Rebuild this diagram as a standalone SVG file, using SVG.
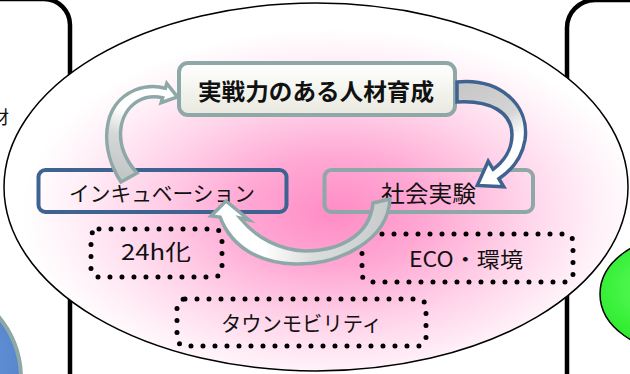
<svg xmlns="http://www.w3.org/2000/svg" width="630" height="374" viewBox="0 0 630 374">
<defs>
<style>
.panel{fill:none;stroke:#000;stroke-width:4.5}
.jp{font-family:"Noto Sans CJK JP","Noto Sans",sans-serif;fill:#111;text-anchor:middle}
.dots{fill:none;stroke:#000;stroke-width:5;stroke-linecap:round;stroke-dasharray:0 12}
.arrow-teal{stroke:#8ea8a8;stroke-width:3.5;stroke-linejoin:miter;stroke-miterlimit:6}
.arrow-blue{stroke:#3f6390;stroke-width:3.5;stroke-linejoin:miter;stroke-miterlimit:6}
</style>
<radialGradient id="pink" cx="0.53" cy="0.57" r="0.5">
<stop offset="0" stop-color="#ff8cc5"/>
<stop offset="0.3" stop-color="#ffa8d4"/>
<stop offset="0.6" stop-color="#ffd3e9"/>
<stop offset="0.85" stop-color="#fff1f8"/>
<stop offset="1" stop-color="#ffffff"/>
</radialGradient>
<linearGradient id="topFill" x1="0" y1="0" x2="0" y2="1">
<stop offset="0" stop-color="#ffffff"/>
<stop offset="1" stop-color="#e9e9e0"/>
</linearGradient>
<radialGradient id="blueFill" cx="0.7" cy="0.4" r="0.7">
<stop offset="0" stop-color="#6a98da"/>
<stop offset="1" stop-color="#3e6fbe"/>
</radialGradient>
<radialGradient id="greenFill" cx="0.4" cy="0.45" r="0.6">
<stop offset="0" stop-color="#66ff66"/>
<stop offset="1" stop-color="#1ee61e"/>
</radialGradient>
<linearGradient id="g1" gradientUnits="userSpaceOnUse" x1="128" y1="178" x2="150" y2="92">
<stop offset="0" stop-color="#c2c6c6"/>
<stop offset="0.45" stop-color="#d6d8d8"/>
<stop offset="0.75" stop-color="#ffffff"/>
<stop offset="1" stop-color="#ffffff"/>
</linearGradient>
<linearGradient id="g2" gradientUnits="userSpaceOnUse" x1="460" y1="90" x2="505" y2="175">
<stop offset="0" stop-color="#c8c8c8"/>
<stop offset="0.45" stop-color="#d4d4d4"/>
<stop offset="0.7" stop-color="#ffffff"/>
<stop offset="1" stop-color="#ffffff"/>
</linearGradient>
<linearGradient id="g3" gradientUnits="userSpaceOnUse" x1="385" y1="220" x2="222" y2="220">
<stop offset="0" stop-color="#c8cccc"/>
<stop offset="0.45" stop-color="#dcdede"/>
<stop offset="0.75" stop-color="#ffffff"/>
<stop offset="1" stop-color="#ffffff"/>
</linearGradient>
</defs>

<rect width="630" height="374" fill="#ffffff"/>

<g id="left-panel">
<path class="panel" d="M -10 -1 H 44 A 26 26 0 0 1 70 25 V 380"/>
<text class="jp" x="9" y="124" font-size="18" style="text-anchor:end" fill="#222">材</text>
<circle cx="-74" cy="378" r="95" fill="url(#blueFill)" stroke="#8ea8a8" stroke-width="4"/>
</g>

<g id="right-panel">
<path class="panel" d="M 567 380 V 28 A 28 28 0 0 1 595 0 H 640"/>
<ellipse cx="680" cy="294" rx="80" ry="58" fill="url(#greenFill)" stroke="#000" stroke-width="1.5"/>
</g>

<g id="main-ellipse">
<ellipse cx="316" cy="187" rx="312" ry="184" fill="url(#pink)" stroke="#000" stroke-width="1.5"/>
</g>

<g id="node-jinzai">
<rect x="179" y="63" width="276" height="52" rx="9" fill="url(#topFill)" stroke="#8ea8a8" stroke-width="4"/>
<text class="jp" x="316" y="99.5" font-size="23" font-weight="bold" textLength="236" lengthAdjust="spacingAndGlyphs">実戦力のある人材育成</text>
</g>

<g id="node-incubation">
<rect x="38.5" y="170" width="248" height="42" rx="7" fill="none" stroke="#3f6390" stroke-width="4"/>
<text class="jp" x="162" y="200.5" font-size="21" textLength="186" lengthAdjust="spacingAndGlyphs">インキュベーション</text>
</g>

<g id="node-shakai">
<rect x="324.5" y="170" width="208.5" height="42" rx="7" fill="none" stroke="#8ea8a8" stroke-width="4"/>
<text class="jp" x="428.5" y="201.5" font-size="23" textLength="95" lengthAdjust="spacingAndGlyphs">社会実験</text>
</g>

<g id="node-24h">
<rect class="dots" x="91" y="229" width="131" height="48" rx="8"/>
<text class="jp" x="156" y="260" font-size="22" textLength="70" lengthAdjust="spacingAndGlyphs">24h化</text>
</g>

<g id="node-eco">
<rect class="dots" x="362" y="234" width="211" height="48" rx="8"/>
<text class="jp" x="466" y="266.5" font-size="21" textLength="114" lengthAdjust="spacingAndGlyphs">ECO・環境</text>
</g>

<g id="node-town">
<rect class="dots" x="177" y="299" width="249" height="47" rx="8"/>
<text class="jp" x="301.5" y="330.5" font-size="21" textLength="161" lengthAdjust="spacingAndGlyphs">タウンモビリティ</text>
</g>

<g id="connectors">
<path class="arrow-teal" fill="url(#g1)" d="M 121 182 C 100 150 100 105 135 90 C 145 86 157 86 165.4 88.2 L 166.8 83.4 L 177.4 96.9 L 161.2 102.6 L 162.6 97.8 C 155 96 147 96 138 101 C 118 113 112 145 137 173 Z"/>
<path class="arrow-blue" fill="url(#g2)" d="M 457 82 C 500 78 530 105 525 140 C 522 158 512 170 498.9 178.7 L 503.8 186.8 L 477.3 185.4 L 488.2 161.3 L 493.1 169.3 C 503 162 512 150 512 135 C 512 112 490 100 457 102 Z"/>
<path class="arrow-teal" fill="url(#g3)" d="M 390 199 C 388 240 340 265 295 264 C 260 263 232 248 220 217 L 211 216 L 226 201 L 249 220 L 240 218 C 256 238 280 250 305 251 C 340 251 370 235 373 203 Z"/>
</g>
</svg>
